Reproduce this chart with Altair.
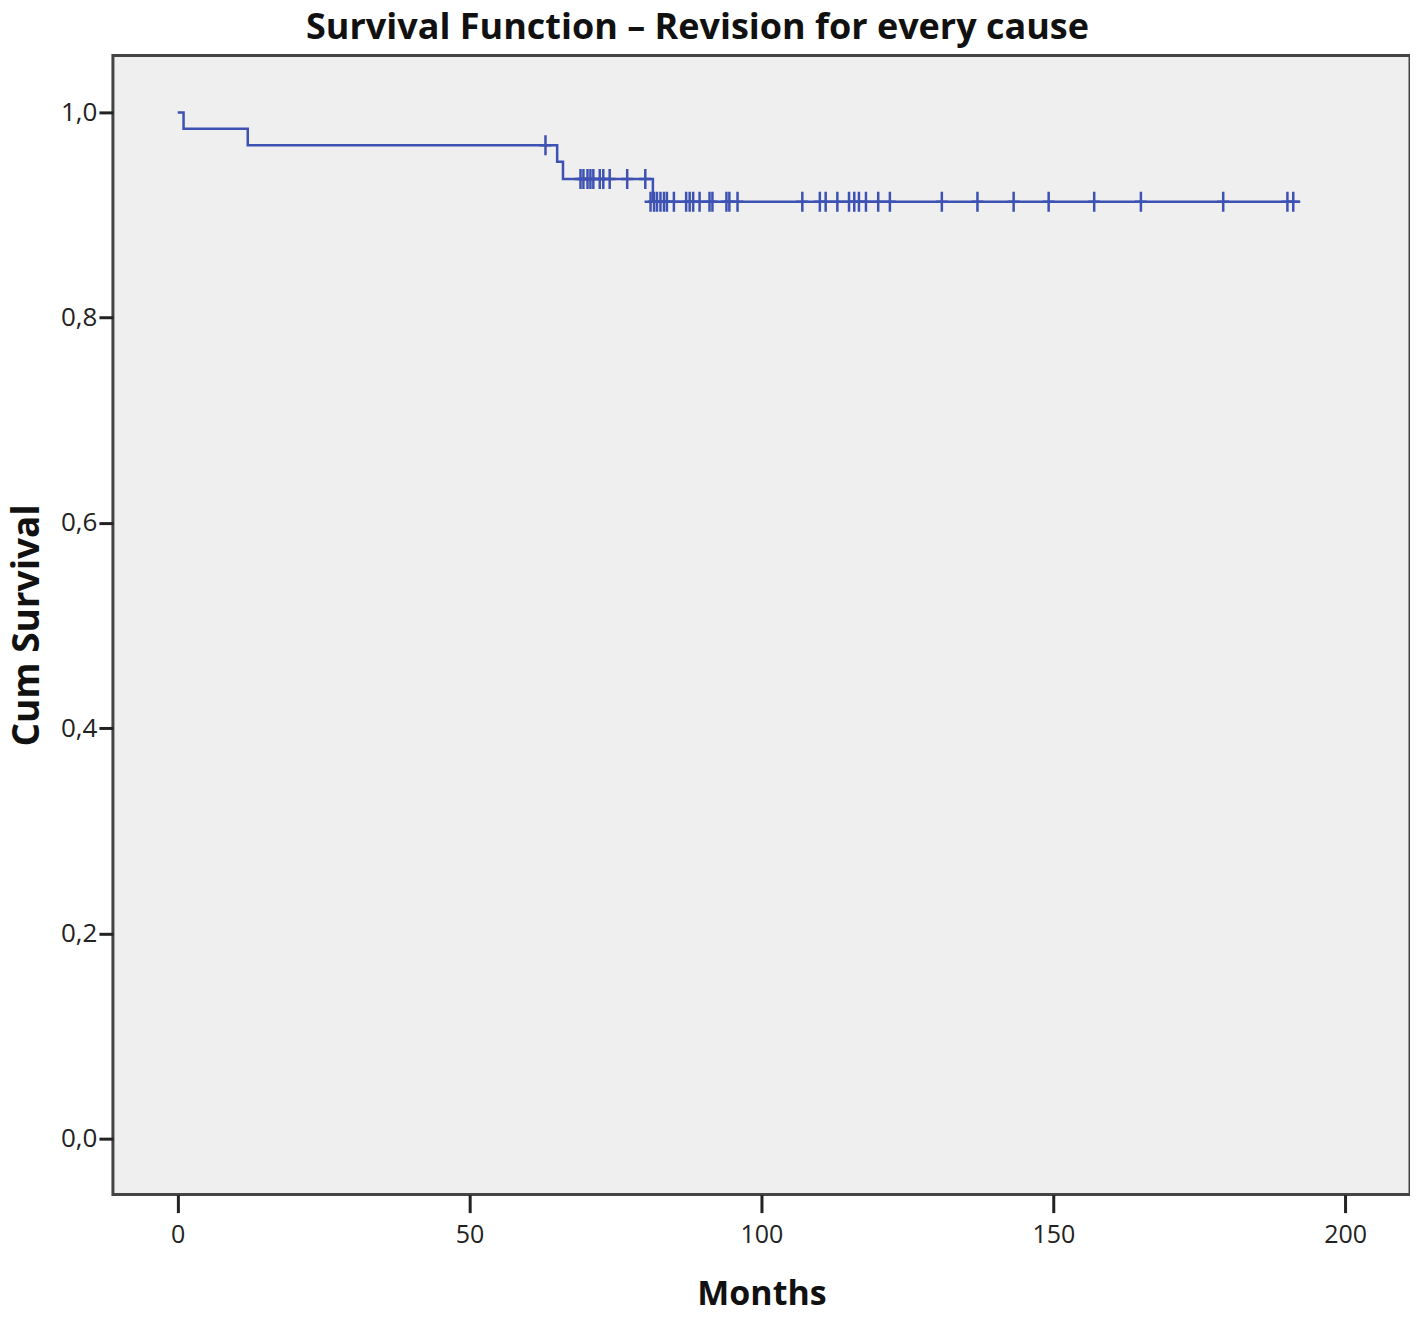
import altair as alt
import pandas as pd

# Kaplan-Meier step points (months, cumulative survival)
step_months = [0, 1, 12, 65, 66, 81.4, 192.3]
step_surv = [1.0, 0.984, 0.968, 0.952, 0.935, 0.913, 0.913]

# Censored observations (months) and the survival level they sit on
censor_months = [63,
                 69.0, 69.5, 70.2, 70.7, 71.2, 72.3, 72.9, 74.0, 77.0, 80.1,
                 81.0, 81.6, 82.1, 82.7, 83.3, 83.8, 85.0, 87.1, 87.7, 88.3,
                 89.4, 91.1, 91.6, 94.0, 94.5, 95.9, 107.0, 110.0, 111.0, 113.0,
                 115.0, 115.9, 116.7, 117.9, 120.0, 122.0, 130.9, 137.0, 143.2,
                 149.2, 157.0, 165.0, 179.1, 190.1, 191.1]
censor_surv = ([0.968] + [0.935] * 10 + [0.913] * 35)

x_ticks = [0, 50, 100, 150, 200]
y_ticks = [0.0, 0.2, 0.4, 0.6, 0.8, 1.0]

steps = pd.DataFrame({"Months": step_months, "Survival": step_surv})
cens = pd.DataFrame({"Months": censor_months, "Survival": censor_surv})

BLUE = "#3d52b3"
LABEL_FONT = "Open Sans"
TITLE_FONT = "Open Sans"

x_enc = alt.X("Months:Q", scale=alt.Scale(domain=[-11.1, 211.1], nice=False, zero=False),
              axis=alt.Axis(values=x_ticks, title="Months", grid=False, domain=False,
                            tickSize=18, tickWidth=3, tickColor="#222",
                            labelFontSize=25, labelFont=LABEL_FONT, labelColor="#222",
                            labelPadding=10, titleFontSize=34, titleFont=TITLE_FONT,
                            titleFontWeight="bold", titleColor="#111", titlePadding=30))
y_enc = alt.Y("Survival:Q", scale=alt.Scale(domain=[-0.0545, 1.0555], nice=False, zero=False),
              axis=alt.Axis(values=y_ticks, title="Cum Survival", grid=False, domain=False,
                            format=".1f", labelExpr="replace(datum.label, '.', ',')",
                            tickSize=14, tickWidth=3, tickColor="#222",
                            labelFontSize=26, labelFont=LABEL_FONT, labelColor="#222",
                            labelPadding=2, titleFontSize=37, titleFont=TITLE_FONT,
                            titleFontWeight="bold", titleColor="#111", titlePadding=14))

line = alt.Chart(steps).mark_line(interpolate="step-after", color=BLUE, strokeWidth=2.5).encode(
    x=x_enc, y=y_enc)

marks = alt.Chart(cens).mark_point(
    shape="M0,-1L0,1M-0.6,0L0.6,0", size=400, filled=False, color=BLUE, strokeWidth=2.5, opacity=1
).encode(x="Months:Q", y="Survival:Q")

chart = (line + marks).properties(
    width=1298, height=1140,
    title=alt.TitleParams("Survival Function – Revision for every cause", fontSize=36,
                          font=TITLE_FONT, fontWeight="bold", color="#111",
                          anchor="middle", offset=8, dx=-64),
    autosize=alt.AutoSizeParams(type="none"),
    padding={"left": 105, "top": 47, "right": 0, "bottom": 120},
).configure(background="white").configure_view(fill="#efefef", stroke="#444", strokeWidth=3)

chart.save("out.html", embed_options={"renderer": "svg", "actions": False})
